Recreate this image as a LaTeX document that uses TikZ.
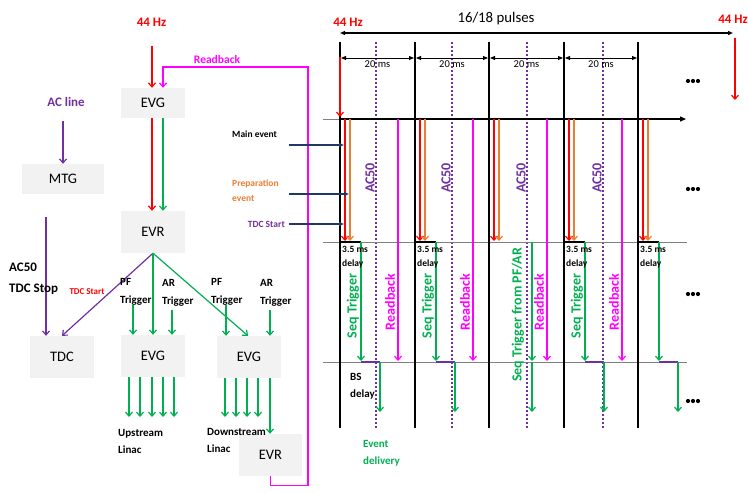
\documentclass[tikz,border=0pt]{standalone}
\usepackage{fontspec}
\setmainfont{Carlito}
\usetikzlibrary{arrows.meta}
\definecolor{cred}{HTML}{FF0000}
\definecolor{cgreen}{HTML}{00B050}
\definecolor{cpurple}{HTML}{7030A0}
\definecolor{cmag}{HTML}{FF00FF}
\definecolor{corange}{HTML}{ED7D31}
\definecolor{cnavy}{HTML}{1F3864}
\definecolor{cbox}{HTML}{F2F2F2}
\definecolor{cgrayline}{HTML}{808080}
\newcommand{\myfs}[2]{\fontsize{#1}{#2}\selectfont}
\begin{document}
\begin{tikzpicture}[x=1pt,y=-1pt,
  box/.style={fill=cbox, draw=none, minimum width=64pt, minimum height=42pt, inner sep=0pt, font=\myfs{14.5}{16}},
  lbl/.style={inner sep=0pt, align=left},
  carr/.style={line width=1.2pt, -{Straight Barb[length=4pt,width=7pt]}},
  narr/.style={line width=1.3pt, cnavy, -{Triangle[length=5pt,width=4pt]}},
  vline/.style={line width=1.7pt, black},
  dline/.style={line width=1.8pt, cpurple, dash pattern=on 1.8pt off 2.2pt},
  hline/.style={line width=0.8pt, cgrayline},
  dim/.style={line width=0.9pt, black, {Triangle[length=5pt,width=4pt]}-{Triangle[length=5pt,width=4pt]}},
]
\useasboundingbox (0,0) rectangle (748,491);

%% ---------------- left block ----------------
\node[lbl, text=cred, font=\bfseries\myfs{13}{15}] (hzA) at (151.5,22) {44 Hz};
\node[box, minimum height=30pt] (evg1) at (153,103) {EVG};
\node[box, minimum width=82pt, minimum height=30pt] (mtg) at (63,179) {MTG};
\node[box] (evr1) at (153,232) {EVR};
\node[box] (tdc) at (62,357) {TDC};
\node[box] (evg2) at (153,356) {EVG};
\node[box] (evg3) at (249,357) {EVG};
\node[box, minimum width=63pt] (evr3) at (270.5,455) {EVR};

\coordinate (hzAs) at (152,46);
\draw[carr, cred] (hzAs) -- (hzAs |- evg1.north);
\node[lbl, text=cmag, font=\bfseries\myfs{11.5}{13}] (rbA) at (217,60) {Readback};
\draw[carr, cmag] (evr3.south) -- ++(0,9) -| (308,67) -| ([xshift=10pt]evg1.north);

\draw[carr, cred] ([xshift=-1pt]evg1.south) -- ([xshift=-1pt]evr1.north);
\draw[carr, cgreen] ([xshift=10pt]evg1.south) -- ([xshift=10pt]evr1.north);

\node[lbl, text=cpurple, font=\bfseries\myfs{13}{15}] (acl) at (66,102) {AC line};
\coordinate (acls) at (63,121);
\draw[carr, cpurple] (acls) -- (acls |- mtg.north);
\coordinate (mtgl) at (46,217);
\draw[carr, cpurple] (mtgl) -- (mtgl |- tdc.north);
\node[lbl, anchor=west, font=\bfseries\myfs{13}{21}] (ac50l) at (9,278.5) {AC50\\TDC Stop};

\draw[carr, cpurple] (evr1.south) -- (tdc.north);
\node[lbl, text=cred, font=\bfseries\myfs{9}{11}] (tdcst) at (87,292) {TDC Start};
\draw[carr, cgreen] (evr1.south) -- (evg2.north);
\draw[carr, cgreen] (evr1.south) -- ([xshift=-1pt]evg3.north);

\node[lbl, anchor=west, font=\bfseries\myfs{11}{18}] (pf1) at (120,292) {PF\\Trigger};
\node[lbl, anchor=west, font=\bfseries\myfs{11}{18}] (ar1) at (162,293) {AR\\Trigger};
\node[lbl, anchor=west, font=\bfseries\myfs{11}{18}] (pf2) at (211,292) {PF\\Trigger};
\node[lbl, anchor=west, font=\bfseries\myfs{11}{18}] (ar2) at (260,293) {AR\\Trigger};
\coordinate (pf1s) at (133,305);
\coordinate (ar1s) at (172,310);
\coordinate (pf2s) at (226,305);
\coordinate (ar2s) at (270,310);
\draw[carr, cgreen] (pf1s) -- (pf1s |- evg2.north);
\draw[carr, cgreen] (ar1s) -- (ar1s |- evg2.north);
\draw[carr, cgreen] (pf2s) -- (pf2s |- evg3.north);
\draw[carr, cgreen] (ar2s) -- (ar2s |- evg3.north);

\foreach \xx in {129,140,152,163,174}
  \draw[carr, cgreen] (\xx,0 |- evg2.south) -- (\xx,417);
\foreach \xx in {225,236,247,258}
  \draw[carr, cgreen] (\xx,0 |- evg3.south) -- (\xx,417);
\draw[carr, cgreen] (270,0 |- evg3.south) -- (270,0 |- evr3.north);

\node[lbl, anchor=west, font=\bfseries\myfs{11}{17}] (up) at (118,441.5) {Upstream\\Linac};
\node[lbl, anchor=west, font=\bfseries\myfs{11}{17}] (down) at (207,440.5) {Downstream\\Linac};

%% ---------------- event labels ----------------
\node[lbl, anchor=west, font=\bfseries\myfs{9.5}{11}] (mainev) at (232,134) {Main event};
\node[lbl, anchor=west, text=corange, font=\bfseries\myfs{9.5}{15}] (prepev) at (232,190.5) {Preparation\\event};
\node[lbl, anchor=east, text=cpurple, font=\bfseries\myfs{9.5}{11}] (tdcev) at (285,224) {TDC Start};

%% ---------------- timing diagram ----------------
% dotted AC50 lines
\foreach \xx in {376,452,527,603}
  \draw[dline] (\xx,42) -- (\xx,428);
% horizontal grid lines
\draw[hline] (323,242) -- (687,242);
\draw[hline] (323,362) -- (687,362);
\draw[hline] (323,119) -- (340,119);
\draw[line width=1.3pt, black, -{Triangle[length=6pt,width=5pt]}] (340,119) -- (686,119);
% period lines
\foreach \xx in {340,415,489,564,638}
  \draw[vline] (\xx,42) -- (\xx,428);
% top arrows and labels
\node[lbl, text=cred, font=\bfseries\myfs{13}{15}] (hzB) at (348,22) {44 Hz};
\node[lbl, font=\myfs{14.8}{16}] (pulses) at (496,19) {16/18 pulses};
\coordinate (tl) at (340,33);
\coordinate (tr) at (733,33);
\draw[dim, line width=1.2pt] (tl) -- (tr);
\node[lbl, text=cred, font=\bfseries\myfs{13}{15}] (hzC) at (733,19) {44 Hz};
\coordinate (hzCs) at (735,38);
\draw[carr, cred] (hzCs) -- (735,100);
\draw[carr, cred] (340,57) -- (340,117);
% 20 ms dims
\foreach \xx/\xe in {340/415,415/489,489/564,564/638}{
  \draw[dim] (\xx+1,58) -- (\xe-1,58);
  \node[inner sep=0pt, font=\myfs{10.5}{12}] at ({(\xx+\xe)/2},64.5) {20 ms};
}
% AC50 labels
\foreach \xx in {376,452,527,603}
  \node[inner sep=0pt, rotate=90, text=cpurple, font=\bfseries\myfs{14}{16}] at (\xx-6,178) {AC50};
% red / orange event arrows
\foreach \xx in {340,415,489,564,638}{
  \draw[carr, cred] (\xx+5,119) -- (\xx+5,241);
  \draw[carr, corange] (\xx+10,119) -- (\xx+10,241);
}
% readback arrows
\foreach \xx in {340,415,489,564}
  \draw[carr, cmag] (\xx+58,119) -- (\xx+58,361);
% seq trigger with bracket and BS delay
\foreach \xx in {340,415,564,638}{
  \draw[line width=1.3pt, black] (\xx,242) -- (\xx+21,242);
  \draw[carr, cgreen] (\xx+21,242) -- (\xx+21,361);
  \draw[line width=1.3pt, cpurple] (\xx+21,362) -- (\xx+40,362);
  \draw[carr, cgreen] (\xx+40,362) -- (\xx+40,412);
  \node[lbl, anchor=west, font=\bfseries\myfs{9.5}{14}] at (\xx+2,257) {3.5 ms\\delay};
}
\draw[carr, cgreen] (532,242) -- (532,361);
\draw[carr, cgreen] (532,362) -- (532,412);
% rotated texts
\foreach \xx in {340,415,564}
  \node[inner sep=0pt, rotate=90, text=cgreen, font=\bfseries\myfs{14}{16}] at (\xx+13,306) {Seq Trigger};
\foreach \xx in {340,415,489,564}
  \node[inner sep=0pt, rotate=90, text=cmag, font=\bfseries\myfs{14}{16}] at (\xx+50,302) {Readback};
\node[inner sep=0pt, rotate=90, text=cgreen, font=\bfseries\myfs{14}{16}] (seqpf) at (518,315) {Seq Trigger from PF/AR};
% BS delay / event delivery
\node[lbl, anchor=west, font=\bfseries\myfs{11}{17}] (bsd) at (350,386.5) {BS\\delay};
\node[lbl, anchor=west, text=cgreen, font=\bfseries\myfs{11}{17}] (evd) at (363,453.5) {Event\\delivery};
% navy event arrows
\coordinate (n1) at (289,145);
\coordinate (n2) at (289,194);
\coordinate (n3) at (289,224);
\draw[narr] (n1) -- (344,145);
\draw[narr] (n2) -- (349,194);
\draw[narr] (n3) -- (344,224);
% dots
\foreach \yy in {81,189,294,401}
  \foreach \dd in {0,5,10}
    \fill[black] (688+\dd,\yy) circle (2.1pt);
\end{tikzpicture}
\end{document}
